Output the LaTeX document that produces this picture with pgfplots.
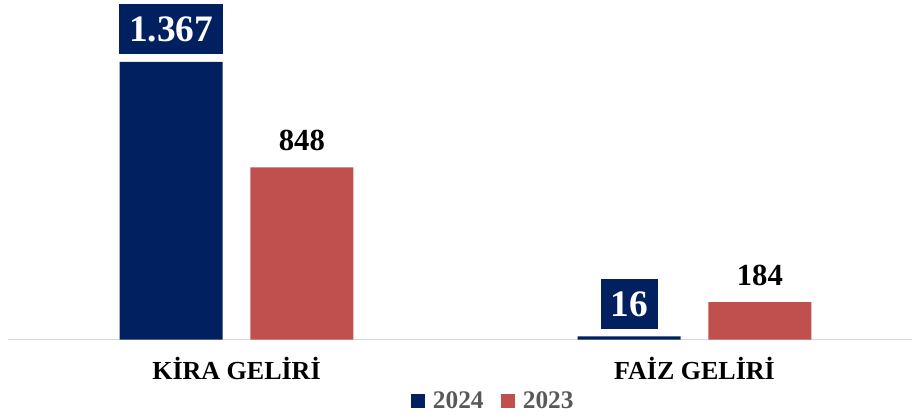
\documentclass[border=0pt]{standalone}
\usepackage{pgfplots}
\pgfplotsset{compat=1.18}
\usepackage{fontspec}
\setmainfont{Liberation Serif}
\definecolor{navy}{HTML}{002060}
\definecolor{brick}{HTML}{C0504D}
\definecolor{leggray}{HTML}{595959}
\definecolor{axgray}{HTML}{D9D9D9}
\begin{document}
\begin{tikzpicture}
\useasboundingbox (0pt,-59.625pt) rectangle (684pt,254.625pt);
\begin{axis}[
  at={(6pt,0pt)}, anchor=south west,
  width=678pt, height=254.625pt, scale only axis,
  xmin=-0.4989, xmax=1.4749, ymin=0, ymax=1672,
  ybar, bar width=77.25pt,
  axis x line*=bottom, axis y line=none,
  x axis line style={draw=axgray, line width=1.2pt},
  xtick={0,1}, xticklabels={KİRA GELİRİ, FAİZ GELİRİ},
  major tick length=0pt,
  xticklabel style={font=\bfseries\fontsize{19.5}{19.5}\selectfont, anchor=base, yshift=-30pt, text=black},
  legend columns=2,
  legend style={at={(0.4458,-0.181)}, anchor=west, draw=none, fill=none, inner sep=0pt,
    font=\bfseries\fontsize{19}{19}\selectfont, text=leggray,
    /tikz/every odd column/.append style={column sep=3.75pt},
    /tikz/every even column/.append style={column sep=11.2pt}},
  legend image code/.code={\fill[#1] (0pt,-5pt) rectangle (10.5pt,5.5pt);},
  /pgf/number format/1000 sep={.},
  /pgf/number format/assume math mode=true,
  clip=false,
]
\addplot[fill=navy, draw=none, bar shift=-49pt,
  nodes near coords,
  nodes near coords style={anchor=south, fill=navy, text=white,
    font=\bfseries\fontsize{28}{28}\selectfont, inner xsep=7.5pt, inner ysep=0pt,
    minimum height=37.5pt, text height=19pt, text depth=0pt, yshift=5.6pt}]
  coordinates {(0,1367) (1,16)};
\addlegendentry{2024}
\addplot[fill=brick, draw=none, bar shift=49pt,
  nodes near coords,
  nodes near coords style={anchor=base, inner sep=0pt, text=black,
    font=\bfseries\fontsize{23}{23}\selectfont, yshift=12.5pt}]
  coordinates {(0,848) (1,184)};
\addlegendentry{2023}
\end{axis}
\end{tikzpicture}
\end{document}
